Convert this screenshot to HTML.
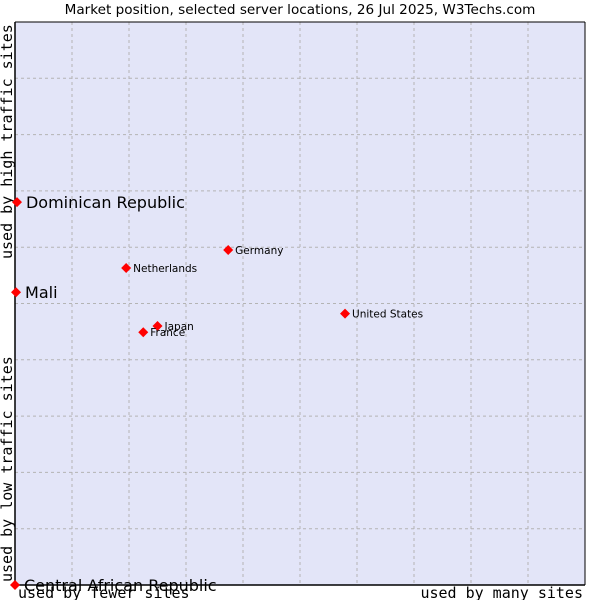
<!DOCTYPE html>
<html><head><meta charset="utf-8"><style>
body{margin:0;background:#fff}
svg{display:block}
</style></head><body>
<svg id="chart" width="600" height="600" xmlns="http://www.w3.org/2000/svg">
<text x="300" y="14" text-anchor="middle" font-family="DejaVu Sans, sans-serif" font-size="13.6" fill="#000">Market position, selected server locations, 26 Jul 2025, W3Techs.com</text>
<rect x="15" y="22" width="570" height="563" fill="#e3e5f8"/>
<g id="grid"></g>
<line x1="15" y1="22" x2="15" y2="585" stroke="#000" stroke-width="1.5"/>
<line x1="15" y1="585" x2="585" y2="585" stroke="#000" stroke-width="1.5"/>
<line x1="15" y1="22" x2="585" y2="22" stroke="#000" stroke-width="1"/>
<line x1="585" y1="22" x2="585" y2="585" stroke="#000" stroke-width="1"/>
<text x="18" y="598" font-family="DejaVu Sans Mono, monospace" font-size="15">used by fewer sites</text>
<text x="583" y="598" text-anchor="end" font-family="DejaVu Sans Mono, monospace" font-size="15">used by many sites</text>
<text transform="translate(12,582) rotate(-90)" font-family="DejaVu Sans Mono, monospace" font-size="15">used by low traffic sites</text>
<text transform="translate(12,259) rotate(-90)" font-family="DejaVu Sans Mono, monospace" font-size="15">used by high traffic sites</text>
<g id="points"></g>
</svg>
<script>
const names = ["Dominican Republic","Mali","Central African Republic","Netherlands","Germany","United States","Japan","France"];
const xValues = [0.35,0.18,0,19.5,37.4,57.9,25.0,22.5];
const yValues = [68.0,52.0,0,56.3,59.5,48.2,46.0,44.9];
const bigLabel = [true,true,true,false,false,false,false,false];
const NS="http://www.w3.org/2000/svg";
const L=15,R=585,T=22,B=585;
const xs=v=>L+(R-L)*v/100;
const ys=v=>B-(B-T)*v/100;
const grid=document.getElementById('grid');
for(let i=1;i<10;i++){
  const gx=document.createElementNS(NS,'line');
  gx.setAttribute('x1',xs(i*10));gx.setAttribute('x2',xs(i*10));
  gx.setAttribute('y1',T);gx.setAttribute('y2',B);
  gx.setAttribute('stroke','#b4b4b4');gx.setAttribute('stroke-dasharray','3,3');
  
  
  grid.appendChild(gx);
  const gy=document.createElementNS(NS,'line');
  gy.setAttribute('y1',ys(i*10));gy.setAttribute('y2',ys(i*10));
  gy.setAttribute('x1',L);gy.setAttribute('x2',R);
  gy.setAttribute('stroke','#b4b4b4');gy.setAttribute('stroke-dasharray','3,3');
  
  
  grid.appendChild(gy);
}
const pts=document.getElementById('points');
names.forEach((n,i)=>{
  const x=xs(xValues[i]),y=ys(yValues[i]);
  const m=document.createElementNS(NS,'polygon');
  m.setAttribute('points',`${x},${y-5} ${x+5},${y} ${x},${y+5} ${x-5},${y}`);
  m.setAttribute('fill','#ff0000');
  
  
  pts.appendChild(m);
  const t=document.createElementNS(NS,'text');
  t.setAttribute('x',x+(bigLabel[i]?9:7));
  t.setAttribute('y',y+(bigLabel[i]?6:4));
  t.setAttribute('font-family','DejaVu Sans, sans-serif');
  t.setAttribute('font-size',bigLabel[i]?'16':'10.5');
  t.textContent=n;
  
  
  pts.appendChild(t);
});
</script>
</body></html>
